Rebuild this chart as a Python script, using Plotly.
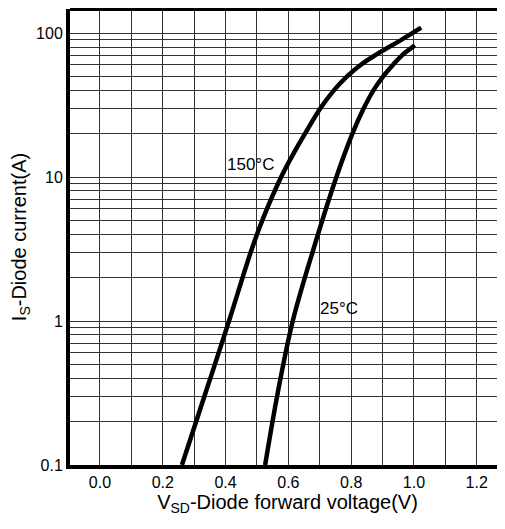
import plotly.graph_objects as go
import numpy as np

# 150°C curve (V, A)
v_150 = [0.261, 0.336, 0.411, 0.480, 0.517, 0.577, 0.622, 0.653, 0.702, 0.745, 0.787, 0.830, 0.876, 0.961, 1.023]
i_150 = [0.1, 0.316, 1.0, 3.0, 5.0, 10, 15.3, 20, 30, 40, 50, 60, 70, 90, 109]

# 25°C curve (V, A)
v_25 = [0.526, 0.566, 0.614, 0.680, 0.753, 0.804, 0.840, 0.871, 0.902, 0.933, 0.962, 1.003]
i_25 = [0.1, 0.316, 1.0, 3.16, 10, 20, 30, 40, 50, 60, 70, 82]

x_ticks = [0.0, 0.2, 0.4, 0.6, 0.8, 1.0, 1.2]
y_ticks = [0.1, 1, 10, 100]
y_tick_labels = ["0.1", "1", "10", "100"]

labels = ["150°C", "25°C"]
label_x = [0.478, 0.762]
label_y = [12.25, 1.22]

FONT = "Arial, Liberation Sans, sans-serif"

fig = go.Figure()
fig.add_trace(go.Scatter(x=v_150, y=i_150, mode="lines",
                         line=dict(color="black", width=4.5, shape="spline", smoothing=1.0),
                         showlegend=False))
fig.add_trace(go.Scatter(x=v_25, y=i_25, mode="lines",
                         line=dict(color="black", width=4.5, shape="spline", smoothing=1.0),
                         showlegend=False))

for t, x, y in zip(labels, label_x, label_y):
    fig.add_annotation(x=x, y=np.log10(y), text=t, showarrow=False,
                       font=dict(family=FONT, size=17, color="black"))

# page body has an 8px margin: figure is 497x521 so it ends at the window edge
fig.update_layout(
    width=497, height=521,
    margin=dict(l=62, r=0, t=1, b=64, autoexpand=False),
    plot_bgcolor="white", paper_bgcolor="white",
    font=dict(family=FONT, color="black"),
)
fig.update_xaxes(
    range=[-0.0955, 1.29],
    tickvals=x_ticks, ticktext=[f"{v:.1f}" for v in x_ticks],
    tickfont=dict(size=16),
    showgrid=True, gridcolor="#333", gridwidth=1,
    minor=dict(dtick=0.1, tick0=0, showgrid=True, gridcolor="#333", gridwidth=1),
    showline=True, linecolor="black", linewidth=4,
    ticks="", zeroline=False, automargin=False,
    title=dict(text="V<sub>SD</sub>-Diode forward voltage(V)", font=dict(size=20), standoff=6),
)
fig.update_yaxes(
    type="log", range=[-1, 2.167],
    tickvals=y_ticks, ticktext=y_tick_labels,
    tickfont=dict(size=16),
    showgrid=True, gridcolor="#333", gridwidth=1,
    minor=dict(dtick="D1", showgrid=True, gridcolor="#333", gridwidth=1),
    showline=True, linecolor="black", linewidth=4,
    ticks="", zeroline=False, automargin=False,
    title=dict(text="I<sub>S</sub>-Diode current(A)", font=dict(size=20), standoff=6),
)
fig.add_shape(type="line", xref="paper", yref="paper", x0=0, x1=1, y0=1, y1=1,
              line=dict(color="black", width=4))

fig.write_html("out.html")
